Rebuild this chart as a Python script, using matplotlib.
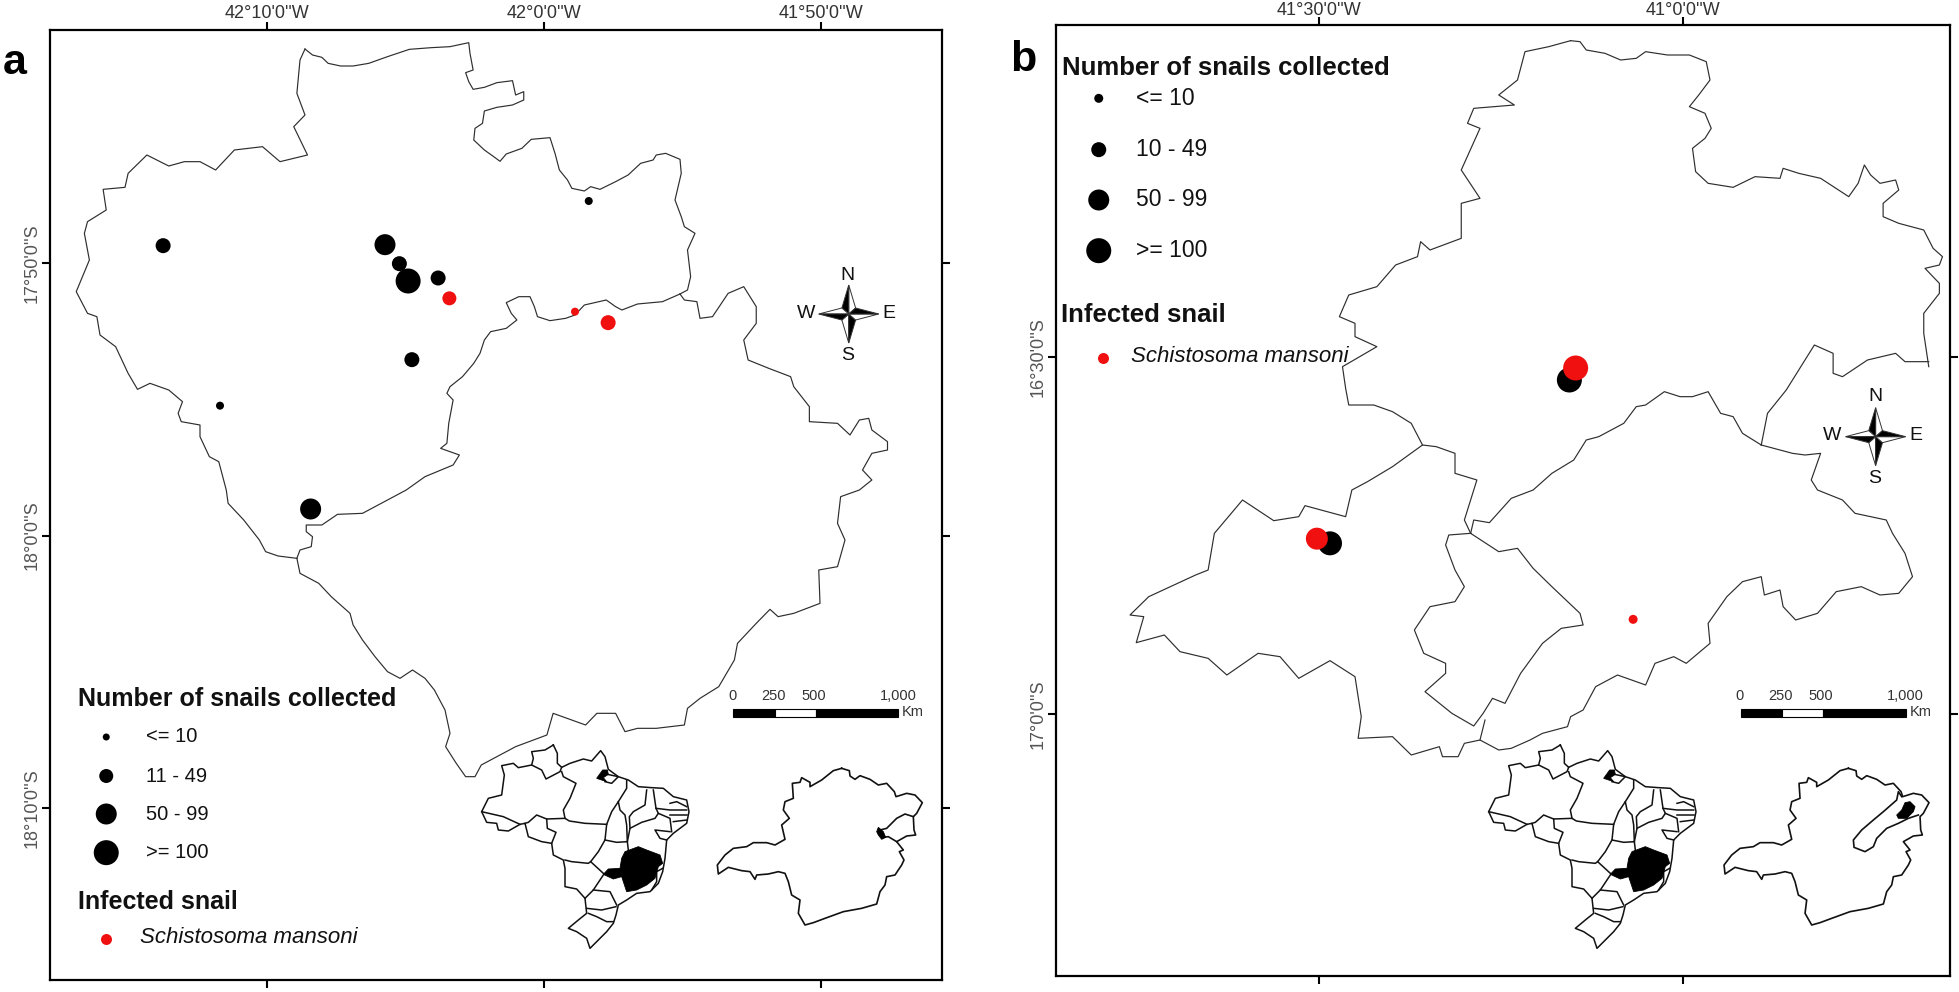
import numpy as np
import matplotlib
matplotlib.use("Agg")
import matplotlib.pyplot as plt
from matplotlib.patches import Polygon, Rectangle

plt.rcParams['font.family'] = ['Liberation Sans', 'DejaVu Sans']
W, H = 1959, 992
DIG_X, DIG_Y = 1.6, 3.0   # digitising grid per reference pixel (main maps)
CROP = 3.0                # digitising grid per reference pixel (locator maps)

# ---------- panel a: municipal outlines (digitised map units) ----------
A_NORTH_EDGE = [(488,147),(500,165),(515,172),(525,190),(545,198),(565,198),(590,190),(620,170),(655,148),(690,143),(720,140),(750,128),(752,160),(757,210),(745,218),(750,245),(757,268),(775,262),(795,248),(820,242),(825,285),(838,275),(838,300),(820,315),(795,322),(775,333),(772,370),(760,385),(758,420),(775,450),(790,470),(800,484),(810,462),(835,445),(850,418),(880,413),(888,460),(895,510),(908,540),(915,565),(935,573),(945,560),(960,568),(985,545),(1005,525),(1025,490),(1045,480),(1050,465),(1065,460),(1088,478),(1090,520),(1080,600),(1090,650),(1095,680),(1112,700),(1100,750),(1105,830),(1100,870),(1088,882)]
A_SHARED_EDGE = [(1088,882),(1060,905),(1020,912),(995,930),(985,920),(970,900),(935,915),(920,945),(905,955),(880,962),(860,950),(855,920),(848,890),(830,890),(810,908),(818,940),(827,960),(810,985),(785,995),(775,1020),(768,1060),(758,1090),(740,1130),(720,1160),(715,1180),(725,1200),(718,1270),(715,1330),(705,1345),(735,1365),(725,1395),(680,1430),(650,1470),(620,1500),(580,1540),(540,1543),(515,1575),(490,1575),(490,1595),(500,1610),(498,1640),(480,1650),(475,1675)]
A_WEST_EDGE = [(475,1675),(445,1668),(425,1655),(415,1620),(390,1560),(365,1510),(362,1470),(355,1420),(350,1385),(335,1370),(320,1310),(320,1275),(290,1265),(285,1240),(292,1205),(270,1170),(240,1150),(220,1168),(205,1120),(185,1040),(160,1005),(155,950),(140,940),(122,875),(143,780),(135,700),(140,665),(170,630),(165,568),(200,562),(205,520),(235,465),(270,498),(295,485),(320,485),(345,510),(375,450),(420,440),(448,485),(492,465),(470,380),(488,345),(475,280),(480,180),(488,147)]
A_EAST_EDGE = [(1088,882),(1095,900),(1115,905),(1120,955),(1140,950),(1165,880),(1190,860),(1210,920),(1210,970),(1190,1020),(1197,1080),(1230,1105),(1265,1130),(1270,1160),(1295,1220),(1295,1265),(1340,1270),(1360,1305),(1375,1260),(1390,1255),(1395,1290),(1420,1325),(1420,1350),(1395,1360),(1380,1410),(1395,1440),(1375,1470),(1345,1490),(1340,1570),(1352,1620),(1340,1700),(1310,1710),(1312,1810),(1270,1840),(1245,1850),(1232,1828),(1210,1870),(1180,1930),(1175,1980),(1150,2060),(1120,2095),(1100,2125),(1095,2175),(1050,2185),(1020,2185),(1000,2195),(985,2140),(955,2140),(937,2175),(885,2140),(875,2205),(825,2240),(800,2265),(770,2295),(760,2330),(745,2330),(730,2290),(713,2240),(720,2200),(712,2130),(695,2070),(680,2035),(660,2010),(640,2035),(620,2015),(600,1970),(580,1920),(565,1875),(560,1840),(530,1790),(510,1750),(480,1720),(475,1675)]

# ---------- panel b: municipal outlines ----------
B_NORTH_EDGE = [(945,122),(960,125),(970,150),(1000,160),(1025,180),(1050,175),(1065,155),(1100,165),(1135,165),(1162,185),(1168,240),(1150,285),(1135,320),(1160,340),(1170,385),(1160,415),(1140,445),(1145,515),(1165,550),(1205,562),(1240,530),(1280,535),(1285,505),(1310,520),(1345,535),(1390,590),(1405,550),(1415,495),(1425,525),(1440,550),(1465,540),(1470,570),(1445,610),(1445,650),(1470,670),(1510,690),(1525,745),(1540,770),(1535,795),(1512,805),(1535,850),(1535,880),(1510,940),(1510,1000),(1518,1100)]
B_EAST_TOP = [(1518,1085),(1480,1085),(1465,1060),(1420,1080),(1380,1130),(1365,1120),(1365,1060),(1335,1035),(1320,1080),(1290,1170),(1260,1240),(1250,1335)]
B_NORTH_SOUTH = [(1250,1335),(1220,1300),(1205,1250),(1185,1240),(1165,1175),(1140,1190),(1120,1190),(1095,1175),(1065,1215),(1050,1220),(1030,1270),(990,1310),(970,1320),(950,1380),(915,1420),(885,1470),(850,1495),(815,1568),(790,1560),(785,1600)]
B_NORTH_WEST = [(785,1600),(775,1560),(790,1470),(795,1440),(760,1420),(760,1360),(730,1340),(708,1335),(690,1270),(660,1235),(630,1215),(590,1215),(585,1165),(580,1100),(635,1040),(600,1010),(600,970),(575,950),(590,885),(635,860),(665,795),(700,770),(705,725),(720,750),(770,715),(770,610),(800,595),(770,510),(800,385),(780,370),(790,325),(855,315),(830,285),(860,240),(872,155),(910,140),(945,122)]
B_SOUTH_EDGE = [(1250,1335),(1300,1360),(1320,1365),(1345,1360),(1330,1440),(1340,1470),(1380,1500),(1400,1540),(1450,1560),(1460,1600),(1480,1660),(1492,1730),(1470,1780),(1440,1785),(1410,1760),(1370,1775),(1340,1840),(1305,1860),(1285,1820),(1280,1770),(1255,1785),(1250,1730),(1220,1745),(1195,1790),(1165,1870),(1168,1930),(1130,1990),(1110,1970),(1080,1990),(1065,2055),(1020,2025),(985,2060),(965,2130),(945,2150),(940,2180),(900,2200),(880,2220),(850,2245),(830,2250),(800,2220),(775,2230),(765,2270),(740,2270),(735,2240),(690,2265),(660,2210),(605,2215),(610,2150),(600,2030),(560,1982),(510,2035),(480,1970),(445,1960),(395,2025),(365,1975),(320,1955),(295,1905),(250,1928),(262,1850),(240,1845),(270,1790),(345,1725),(365,1710),(375,1600),(420,1500),(470,1562),(510,1550),(520,1517),(585,1550),(595,1470),(620,1445),(660,1400),(708,1335)]
B_CENTRE_EDGE = [(785,1600),(750,1605),(745,1635),(760,1710),(775,1760),(760,1805),(720,1820),(695,1890),(710,1960),(745,1990),(745,2020),(712,2075),(755,2140),(790,2178),(805,2140),(820,2095),(840,2110),(865,2020),(900,1930),(930,1885),(965,1875),(960,1840),(915,1760),(885,1705),(860,1645),(830,1655),(785,1600)]
B_CENTRE_LINK = [(808,2160),(800,2220)]

BR_OUTLINE = [(250,30),(262,55),(262,85),(275,97),(300,85),(340,72),(365,78),(392,47),(405,65),(415,103),(445,125),(475,135),(505,155),(545,158),(580,160),(610,185),(650,195),(657,230),(650,265),(610,295),(590,315),(585,370),(578,410),(565,445),(540,470),(500,475),(470,495),(445,510),(438,540),(430,565),(410,590),(380,620),(360,640),(350,610),(320,590),(295,580),(325,555),(350,535),(345,490),(320,462),(285,455),(285,400),(280,375),(250,360),(245,325),(215,320),(175,305),(165,265),(150,268),(115,288),(85,285),(80,265),(50,262),(35,230),(55,190),(95,180),(103,120),(95,92),(130,85),(145,98),(185,90),(190,70),(185,50),(225,45),(250,30)]
BR_STATE_LINES = [
    [(185,90),(215,105),(228,132),(270,110),(275,97)],
    [(275,110),(280,125),(318,145),(300,190),(280,225),(285,250),(298,258),(345,265),(410,268)],
    [(285,250),(230,252),(200,240),(175,262),(165,265)],
    [(35,230),(100,245),(150,268)],
    [(230,252),(232,280),(258,292),(245,325)],
    [(470,135),(470,160),(445,200),(425,230),(410,268),(405,315),(385,350),(362,380),(355,385),(305,380),(285,375)],
    [(405,315),(440,322),(472,320),(470,270),(465,240),(450,225),(445,200)],
    [(472,320),(480,280),(515,262),(555,250),(565,235),(600,250),(605,290)],
    [(530,165),(525,210),(490,230),(478,245),(480,280)],
    [(550,165),(558,220),(565,235)],
    [(558,220),(600,225),(650,225)],
    [(600,205),(620,200),(650,215)],
    [(600,240),(650,240)],
    [(610,260),(650,255)],
    [(472,320),(475,345)],
    [(590,315),(570,310),(555,285),(600,290)],
    [(362,380),(400,415)],
    [(400,420),(370,465),(345,490)],
    [(370,465),(420,470),(440,510)],
    [(578,400),(560,410),(560,440),(545,465)],
    [(350,520),(395,525),(438,515)],
    [(355,535),(380,545),(410,560),(430,560)],
    [(412,118),(445,125),(425,145),(405,140)],
]
BR_MG_FILL = [(505,335),(530,345),(570,360),(578,385),(565,395),(555,430),(530,450),(500,465),(470,470),(460,440),(455,425),(430,432),(400,418),(415,402),(450,400),(455,370),(465,350)]
BR_AP_FILL = [(398,105),(412,105),(415,118),(400,128),(410,140),(395,135),(380,130)]
BR_X0_A, BR_X0_B, BR_Y0 = 470, 1477, 735

# ---------- Minas Gerais locator map ----------
MG_OUTLINE = [(395,55),(418,62),(420,78),(435,88),(450,77),(480,88),(505,105),(530,100),(553,125),(558,140),(590,130),(615,135),(637,158),(620,190),(610,200),(612,240),(617,255),(590,258),(560,275),(580,300),(568,305),(582,330),(575,345),(555,375),(530,380),(525,405),(510,425),(500,462),(455,475),(400,485),(345,505),(310,518),(285,525),(265,490),(270,450),(245,435),(235,395),(225,370),(205,365),(175,372),(140,375),(135,388),(120,365),(95,362),(55,352),(25,372),(22,345),(45,315),(70,295),(110,290),(130,278),(170,278),(195,285),(225,268),(215,225),(238,205),(220,180),(225,155),(250,145),(247,100),(270,97),(275,83),(300,97),(300,110),(335,90),(370,62),(395,55)]
MG_A_REGION = [(610,200),(585,192),(560,205),(530,235),(510,240),(520,262),(535,260),(560,275)]
MG_A_FILL = [(505,232),(520,245),(527,262),(515,268),(505,255),(500,245)]
MG_B_REGION = [(555,140),(545,125),(540,150),(500,185),(470,210),(435,240),(410,270),(412,292),(445,305),(470,290),(480,265),(510,235),(545,220),(575,205),(605,195)]
MG_B_FILL = [(565,158),(580,155),(595,170),(590,185),(570,205),(545,205),(540,195),(555,180)]
MG_X0_A, MG_X0_B, MG_Y0 = 710, 1716.7, 750

# ---------- collection sites: x, y, marker diameter in ref. pixels ----------
A_SNAIL_X = [261,616,639,653,701,659,942,352,497]
A_SNAIL_Y = [737,734,791,843,834,1079,603,1217,1527]
A_SNAIL_D = [15,21,15,25,15,15,8,8,21]
A_INFECT_X = [719,920,973]
A_INFECT_Y = [895,935,968]
A_INFECT_D = [14,8,15]
B_SNAIL_X = [943,560]
B_SNAIL_Y = [1140,1630]
B_SNAIL_D = [25,24]
B_INFECT_X = [953,539,1045]
B_INFECT_Y = [1104,1616,1858]
B_INFECT_D = [25,22,9]

LEGEND_A_LABELS = ['<= 10','11 - 49','50 - 99','>= 100']
LEGEND_A_Y = [2211,2328,2442,2558]
LEGEND_B_LABELS = ['<= 10','10 - 49','50 - 99','>= 100']
LEGEND_B_Y = [295,449,600,752]
LEGEND_D_A = [7,14,21,25]
LEGEND_D_B = [9,15,21,25]

XT_A = [-42-10/60, -42.0, -41-50/60]
XL_A = ["42\u00b010'0''W","42\u00b00'0''W","41\u00b050'0''W"]
YT_A = [-17-50/60, -18.0, -18-10/60]
YL_A = ["17\u00b050'0''S","18\u00b00'0''S","18\u00b010'0''S"]
XT_B = [-41.5, -41.0]
XL_B = ["41\u00b030'0''W","41\u00b00'0''W"]
YT_B = [-16.5, -17.0]
YL_B = ["16\u00b030'0''S","17\u00b00'0''S"]
SCALE_LABELS = ['0','250','500','1,000']

fig = plt.figure(figsize=(W/100, H/100), dpi=100, facecolor='white')

class Panel:
    def __init__(s, box, xpx, xval, ypx, yval, xt, xl, yt, yl, base, xpad):
        l, t, r, b = box
        s.base = base
        s.ax = fig.add_axes([l/W, 1-b/H, (r-l)/W, (b-t)/H])
        s.kx = (xval[1]-xval[0])/(xpx[1]-xpx[0]); s.x0, s.v0 = xpx[0], xval[0]
        s.ky = (yval[1]-yval[0])/(ypx[1]-ypx[0]); s.y0, s.w0 = ypx[0], yval[0]
        ax = s.ax
        ax.set_xlim(s.lon(l), s.lon(r)); ax.set_ylim(s.lat(b), s.lat(t))
        ax.set_xticks(xt); ax.set_xticklabels(xl)
        ax.set_yticks(yt); ax.set_yticklabels(yl, rotation=90, va='center')
        ax.tick_params(axis='x', top=True, bottom=True, labeltop=True, labelbottom=False,
                       length=5.5, width=1.5, pad=xpad, labelsize=13, labelcolor='#333333')
        ax.tick_params(axis='y', left=True, right=True, labelleft=True,
                       length=5.5, width=1.5, pad=1.5, labelsize=13, labelcolor='#555555')
        for sp in ax.spines.values():
            sp.set_linewidth(1.6)
    def lon(s, px): return s.v0 + (px-s.x0)*s.kx
    def lat(s, py): return s.w0 + (py-s.y0)*s.ky
    def mx(s, t): return s.lon(s.base + np.asarray(t, float)/DIG_X)
    def my(s, t): return s.lat(np.asarray(t, float)/DIG_Y)
    def line(s, pts):
        p = np.array(pts, float)
        s.ax.plot(s.mx(p[:,0]), s.my(p[:,1]), color='#2e2e2e', lw=0.85, clip_on=False, solid_joinstyle='round')
    def crop_line(s, pts, x0, y0, lw=1.1):
        p = np.array(pts, float)
        s.ax.plot(s.lon(x0+p[:,0]/CROP), s.lat(y0+p[:,1]/CROP), color='#111111', lw=lw, solid_joinstyle='round')
    def crop_fill(s, pts, x0, y0):
        p = np.array(pts, float)
        s.ax.add_patch(Polygon(np.c_[s.lon(x0+p[:,0]/CROP), s.lat(y0+p[:,1]/CROP)], closed=True, fc='k', ec='k', lw=0.6, zorder=3))
    def dots(s, x, y, d, color, z=4):
        s.ax.scatter(s.mx(x), s.my(y), s=(np.asarray(d)*0.72)**2, c=color, linewidths=0, zorder=z, clip_on=False)
    def text(s, x, y, txt, **k):
        k.setdefault('va','center'); k.setdefault('ha','left'); k.setdefault('color','#111111')
        s.ax.text(s.mx(x), s.my(y), txt, **k)
    def compass(s, cx, cy):
        nx, ny = 11, 18       # shoulder of the star, x and y
        ln, le = 87, 48       # arm lengths
        arms = [((0,-ln),(-nx,-ny),(nx,-ny)), ((0,ln),(nx,ny),(-nx,ny)),
                ((le,0),(nx,-ny),(nx,ny)), ((-le,0),(-nx,ny),(-nx,-ny))]
        for tip, a, b in arms:
            for q, c in ((b,'white'),(a,'k')):
                p = np.array([(cx+tip[0],cy+tip[1]),(cx+q[0],cy+q[1]),(cx,cy)], float)
                s.ax.add_patch(Polygon(np.c_[s.mx(p[:,0]), s.my(p[:,1])], closed=True, fc=c, ec='#333333', lw=0.7, zorder=3))
    def scale(s, x0, x1, x2, x3, lab_xs, km_x):
        for a, b, c in ((x0,x1,'k'),(x1,x2,'white'),(x2,x3,'k')):
            s.ax.add_patch(Rectangle((s.mx(a), s.my(2152)), s.mx(b)-s.mx(a), s.my(2127)-s.my(2152), fc=c, ec='k', lw=0.8, zorder=3))
        for t, x in zip(SCALE_LABELS, lab_xs):
            s.text(x, 2087, t, ha='center', fontsize=10.5, color='#333333')
        s.text(km_x, 2135, 'Km', ha='center', fontsize=10.5, color='#333333')

RED = '#f01010'

# ---------- panel a ----------
pa = Panel((50,30,942,980), (267,821), (XT_A[0],XT_A[2]), (263,808), (YT_A[0],YT_A[2]), XT_A, XL_A, YT_A, YL_A, 0, 0.3)
for e in (A_NORTH_EDGE, A_SHARED_EDGE, A_WEST_EDGE, A_EAST_EDGE):
    pa.line(e)
for seg in BR_STATE_LINES + [BR_OUTLINE]:
    pa.crop_line(seg, BR_X0_A, BR_Y0)
pa.crop_fill(BR_MG_FILL, BR_X0_A, BR_Y0); pa.crop_fill(BR_AP_FILL, BR_X0_A, BR_Y0)
pa.crop_line(MG_OUTLINE, MG_X0_A, MG_Y0, 1.2); pa.crop_line(MG_A_REGION, MG_X0_A, MG_Y0, 1.2); pa.crop_fill(MG_A_FILL, MG_X0_A, MG_Y0)
pa.dots(A_SNAIL_X, A_SNAIL_Y, A_SNAIL_D, 'k')
pa.dots(A_INFECT_X, A_INFECT_Y, A_INFECT_D, RED, 5)
pa.text(125, 2098, 'Number of snails collected', fontweight='bold', fontsize=18)
pa.text(124, 2705, 'Infected snail', fontweight='bold', fontsize=18)
pa.dots([170]*4, LEGEND_A_Y, LEGEND_D_A, 'k')
for lab, y in zip(LEGEND_A_LABELS, LEGEND_A_Y):
    pa.text(234, y, lab, fontsize=14.5)
pa.dots([170], [2816], [11], RED)
pa.text(224, 2812, 'Schistosoma mansoni', fontsize=16, style='italic')
pa.compass(1358, 942)
for t, x, y in (('N',1356,825),('S',1356,1068),('W',1290,942),('E',1422,942)):
    pa.text(x, y, t, ha='center', fontsize=14)
pa.scale(1173,1240,1305,1437,(1172,1237,1302,1437),1460)
fig.text(3/W, 1-63/H, 'a', fontsize=31, fontweight='bold', va='center', color='k')

# ---------- panel b ----------
pb = Panel((1056,25,1950,976), (1319,1683), (XT_B[0],XT_B[1]), (357,714), (YT_B[0],YT_B[1]), XT_B, XL_B, YT_B, YL_B, 980, -1.0)
for e in (B_NORTH_EDGE, B_EAST_TOP, B_NORTH_SOUTH, B_NORTH_WEST, B_SOUTH_EDGE, B_CENTRE_EDGE, B_CENTRE_LINK):
    pb.line(e)
for seg in BR_STATE_LINES + [BR_OUTLINE]:
    pb.crop_line(seg, BR_X0_B, BR_Y0)
pb.crop_fill(BR_MG_FILL, BR_X0_B, BR_Y0); pb.crop_fill(BR_AP_FILL, BR_X0_B, BR_Y0)
pb.crop_line(MG_OUTLINE, MG_X0_B, MG_Y0, 1.2); pb.crop_line(MG_B_REGION, MG_X0_B, MG_Y0, 1.2); pb.crop_fill(MG_B_FILL, MG_X0_B, MG_Y0)
pb.dots(B_SNAIL_X, B_SNAIL_Y, B_SNAIL_D, 'k')
pb.dots(B_INFECT_X, B_INFECT_Y, B_INFECT_D, RED, 5)
pb.text(132, 203, 'Number of snails collected', fontweight='bold', fontsize=18.5)
pb.text(130, 945, 'Infected snail', fontweight='bold', fontsize=18.5)
pb.dots([190]*4, LEGEND_B_Y, LEGEND_D_B, 'k')
for lab, y in zip(LEGEND_B_LABELS, LEGEND_B_Y):
    pb.text(250, y, lab, fontsize=16.5)
pb.dots([196], [1073], [11], RED)
pb.text(242, 1070, 'Schistosoma mansoni', fontsize=16, style='italic')
pb.compass(1433, 1310)
for t, x, y in (('N',1432,1190),('S',1432,1435),('W',1363,1307),('E',1497,1307)):
    pb.text(x, y, t, ha='center', fontsize=14)
pb.scale(1217,1283,1348,1481,(1215,1280,1345,1480),1505)
fig.text(1010/W, 1-60/H, 'b', fontsize=31, fontweight='bold', va='center', color='k')

fig.savefig('out.png', dpi=100, facecolor='white')
